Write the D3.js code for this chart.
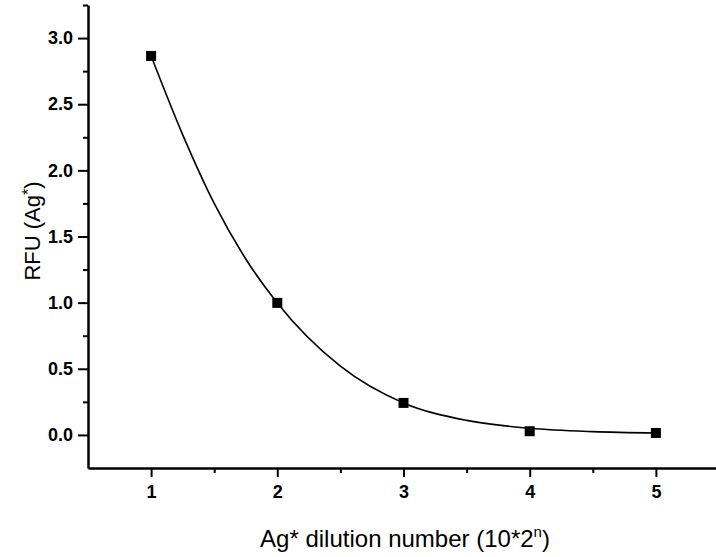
<!DOCTYPE html>
<html lang="en">
<head>
    <meta charset="UTF-8">
    <title>RFU vs Ag* dilution</title>
    <script src="https://d3js.org/d3.v7.min.js"></script>
    <style>
        body {
            margin: 0;
            background: #fff;
            font-family: "Liberation Sans", Arial, sans-serif;
        }
        .tick text {
            font-family: "Liberation Sans", Arial, sans-serif;
            font-size: 18px;
            font-weight: bold;
            fill: #000;
        }
        .axis-title {
            font-family: "Liberation Sans", Arial, sans-serif;
            font-size: 22px;
            fill: #000;
        }
    </style>
</head>
<body>
    <div id="chart"></div>

    <script>
        // measured points
        const dilution = [1, 2, 3, 4, 5];
        const rfu = [2.865, 0.998, 0.242, 0.028, 0.015];

        // fitted curve
        const fitX = [1, 1.25, 1.5, 1.75, 2, 2.5, 3, 3.5, 4, 4.5, 5];
        const fitY = [2.865, 2.27, 1.75, 1.33, 0.998, 0.52, 0.242, 0.11, 0.05, 0.025, 0.015];

        const xTicks = [1, 2, 3, 4, 5];
        const xMinor = [1.5, 2.5, 3.5, 4.5];
        const yTicks = [0, 0.5, 1.0, 1.5, 2.0, 2.5, 3.0];
        const yMinor = [0.25, 0.75, 1.25, 1.75, 2.25, 2.75, 3.25];

        const width = 716, height = 557;

        const svg = d3.select('#chart')
            .append('svg')
            .attr('width', width)
            .attr('height', height);

        const x = d3.scaleLinear().domain([0.5, 5.5]).range([88, 719]);
        const y = d3.scaleLinear().domain([-0.25, 3.25]).range([468, 5]);

        // x axis
        svg.append('g')
            .attr('transform', `translate(0,${y(-0.25)})`)
            .call(d3.axisBottom(x).tickValues(xTicks).tickSize(9).tickSizeOuter(0)
                .tickPadding(8).tickFormat(d3.format('d')));
        svg.append('g')
            .attr('transform', `translate(0,${y(-0.25)})`)
            .call(d3.axisBottom(x).tickValues(xMinor).tickSize(5).tickSizeOuter(0).tickFormat(''))
            .select('.domain').remove();

        // y axis
        svg.append('g')
            .attr('transform', `translate(${x(0.5)},0)`)
            .call(d3.axisLeft(y).tickValues(yTicks).tickSize(10).tickSizeOuter(0)
                .tickPadding(5).tickFormat(d3.format('.1f')));
        svg.append('g')
            .attr('transform', `translate(${x(0.5)},0)`)
            .call(d3.axisLeft(y).tickValues(yMinor).tickSize(5).tickSizeOuter(0).tickFormat(''))
            .select('.domain').remove();

        svg.selectAll('.domain').attr('stroke', '#000').attr('stroke-width', 2.5);
        svg.selectAll('.tick line').attr('stroke', '#000').attr('stroke-width', 2);

        // fitted curve
        const line = d3.line()
            .x((d, i) => x(fitX[i]))
            .y(d => y(d))
            .curve(d3.curveMonotoneX);

        svg.append('path')
            .datum(fitY)
            .attr('d', line)
            .attr('fill', 'none')
            .attr('stroke', '#000')
            .attr('stroke-width', 1.6);

        // square markers
        const s = 10;
        svg.selectAll('rect.pt')
            .data(rfu)
            .enter()
            .append('rect')
            .attr('class', 'pt')
            .attr('x', (d, i) => x(dilution[i]) - s / 2)
            .attr('y', d => y(d) - s / 2)
            .attr('width', s)
            .attr('height', s)
            .attr('fill', '#000');

        // axis titles
        const xt = svg.append('text')
            .attr('class', 'axis-title')
            .attr('x', 405)
            .attr('y', 547)
            .style('font-size', '24px')
            .attr('text-anchor', 'middle');
        xt.append('tspan').text('Ag* dilution number (10*2');
        xt.append('tspan').attr('dy', -10).style('font-size', '15px').text('n');
        xt.append('tspan').attr('dy', 10).text(')');

        const yt = svg.append('text')
            .attr('class', 'axis-title')
            .attr('transform', 'translate(40,231) rotate(-90)')
            .attr('text-anchor', 'middle');
        yt.append('tspan').text('RFU (Ag');
        yt.append('tspan').attr('dy', -6).style('font-size', '16px').text('*');
        yt.append('tspan').attr('dy', 6).text(')');
    </script>
</body>
</html>
